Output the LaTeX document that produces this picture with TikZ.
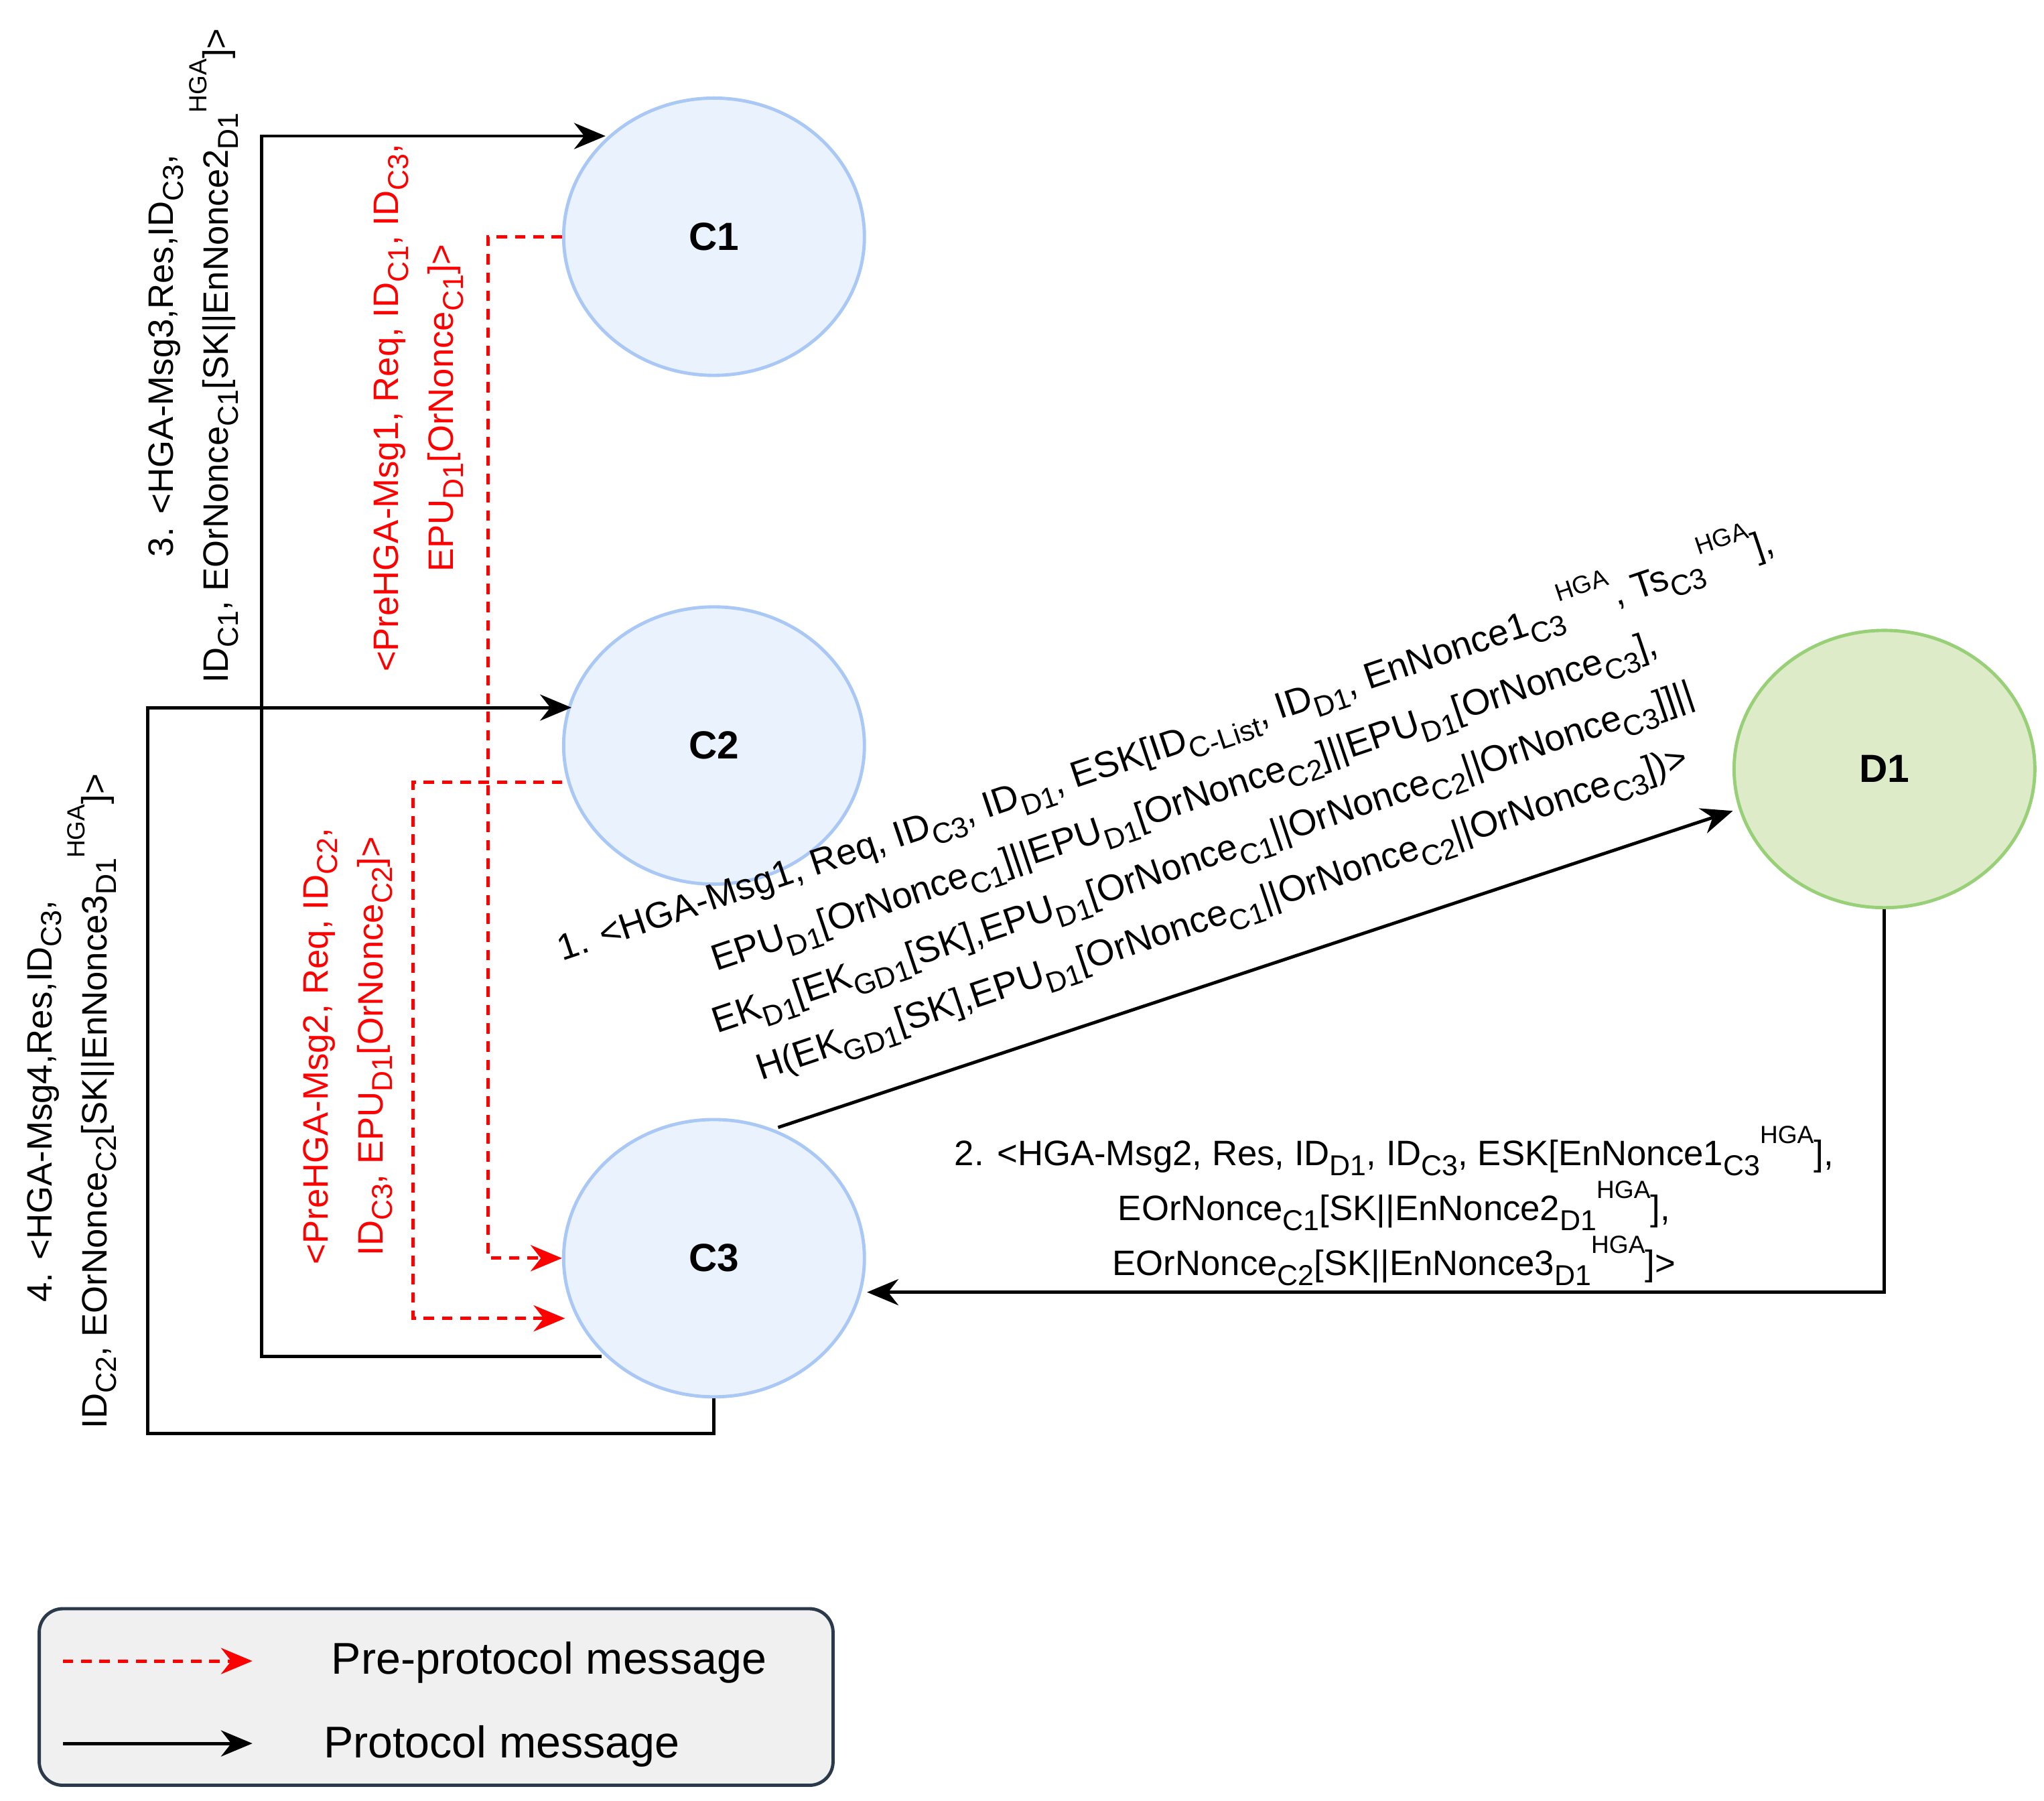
\documentclass[tikz,border=0pt]{standalone}
\usepackage{fontspec}
\setmainfont{Liberation Sans}
\usetikzlibrary{shapes.geometric,arrows.meta}
\newcommand{\sbs}[1]{\raisebox{-0.28em}{\fontsize{22}{22}\selectfont #1}}
\newcommand{\sps}[1]{\raisebox{0.62em}{\fontsize{19}{19}\selectfont #1}}
\definecolor{cfill}{HTML}{EAF2FD}
\definecolor{cline}{HTML}{A9C8F5}
\definecolor{dfill}{HTML}{DEEBC9}
\definecolor{dline}{HTML}{97D077}
\definecolor{lgfill}{HTML}{F0F0F0}
\definecolor{lgline}{HTML}{2B3A4A}
\begin{document}
\begin{tikzpicture}[x=1pt,y=-1pt,
  node/.style={ellipse,draw=cline,fill=cfill,line width=2.5pt,minimum width=230pt,minimum height=212pt,font=\fontsize{30}{34}\selectfont\bfseries},
  dnode/.style={node,draw=dline,fill=dfill},
  proto/.style={line width=2.5pt,-{Stealth[length=24pt,width=20pt]}},
  pre/.style={line width=2.5pt,red,dash pattern=on 8pt off 6pt,-{Stealth[length=24pt,width=20pt]}},
  lbl/.style={font=\fontsize{27}{42}\selectfont,align=center,inner sep=0pt},
  rlbl/.style={lbl,text=red}]
\useasboundingbox (0,0) rectangle (1563,1377);
\node[node] (C1) at (546,181) {C1};
\node[node] (C2) at (546,570) {C2};
\node[node] (C3) at (546,962) {C3};
\node[dnode] (D1) at (1441,588) {D1};
% corners
\coordinate (s3) at (460,1037);
\coordinate (a3) at (200,1037);
\coordinate (b3) at (200,104);
\coordinate (e3) at (463,104);
\coordinate (s4) at (546,1096);
\coordinate (a4) at (113,1096);
\coordinate (b4) at (113,541);
\coordinate (e4) at (437,541);
\coordinate (r1a) at (373,181);
\coordinate (r1b) at (373,962);
\coordinate (r2s) at (430,598);
\coordinate (r2a) at (316,598);
\coordinate (r2b) at (316,1008);
\coordinate (r2e) at (432,1008);
\coordinate (m1s) at (595,862);
\coordinate (m1e) at (1325,620);
\coordinate (m2a) at (1441,988);
\coordinate (m2e) at (663,988);
\draw[proto] (s3) -- (a3) -- (b3) -- (e3);
\draw[proto] (C3.south) -- (s4) -- (a4) -- (b4) -- (e4);
\draw[pre] (C1.west) -- (r1a) -- (r1b) -- (C3.west);
\draw[pre] (r2s) -- (r2a) -- (r2b) -- (r2e);
\draw[proto] (m1s) -- (m1e);
\draw[proto] (D1.south) -- (m2a) -- (m2e);
% labels
\node[lbl,rotate=90] (L3) at (148,272) {3. <HGA-Msg3,Res,ID\sbs{C3},\\ID\sbs{C1}, EOrNonce\sbs{C1}[SK||EnNonce2\sbs{D1}\sps{HGA}]>};
\node[lbl,rotate=90] (L4) at (55,842) {4. <HGA-Msg4,Res,ID\sbs{C3},\\ID\sbs{C2}, EOrNonce\sbs{C2}[SK||EnNonce3\sbs{D1}\sps{HGA}]>};
\node[rlbl,rotate=90] (R1) at (320,312) {<PreHGA-Msg1, Req, ID\sbs{C1}, ID\sbs{C3},\\EPU\sbs{D1}[OrNonce\sbs{C1}]>};
\node[rlbl,rotate=90] (R2) at (266,800) {<PreHGA-Msg2, Req, ID\sbs{C2},\\ID\sbs{C3}, EPU\sbs{D1}[OrNonce\sbs{C2}]>};
\node[lbl,font=\fontsize{28}{45}\selectfont,rotate=18.6] (L1) at (912,632) {1. <HGA-Msg1, Req, ID\sbs{C3}, ID\sbs{D1}, ESK[ID\sbs{C-List}, ID\sbs{D1}, EnNonce1\sbs{C3}\sps{HGA}, Ts\sbs{C3}\sps{HGA}],\\
EPU\sbs{D1}[OrNonce\sbs{C1}]||EPU\sbs{D1}[OrNonce\sbs{C2}]||EPU\sbs{D1}[OrNonce\sbs{C3}],\\
EK\sbs{D1}[EK\sbs{GD1}[SK],EPU\sbs{D1}[OrNonce\sbs{C1}||OrNonce\sbs{C2}||OrNonce\sbs{C3}]]||\\
H(EK\sbs{GD1}[SK],EPU\sbs{D1}[OrNonce\sbs{C1}||OrNonce\sbs{C2}||OrNonce\sbs{C3}])>};
\node[lbl] (L2) at (1066,922) {2. <HGA-Msg2, Res, ID\sbs{D1}, ID\sbs{C3}, ESK[EnNonce1\sbs{C3}\sps{HGA}],\\
EOrNonce\sbs{C1}[SK||EnNonce2\sbs{D1}\sps{HGA}],\\
EOrNonce\sbs{C2}[SK||EnNonce3\sbs{D1}\sps{HGA}]>};
% legend
\node[draw=lgline,fill=lgfill,line width=2.5pt,rounded corners=18pt,minimum width=607pt,minimum height=135pt,inner sep=0pt] (LG) at (333.5,1297.5) {};
\coordinate (p1) at (48,1270);
\coordinate (p2) at (193,1270);
\coordinate (q1) at (48,1333);
\coordinate (q2) at (193,1333);
\draw[pre] (p1) -- (p2);
\draw[proto] (q1) -- (q2);
\node[font=\fontsize{34}{36}\selectfont,anchor=west] (T1) at (250,1271) {Pre-protocol message};
\node[font=\fontsize{34}{36}\selectfont,anchor=west] (T2) at (244,1335) {Protocol message};
\end{tikzpicture}
\end{document}
